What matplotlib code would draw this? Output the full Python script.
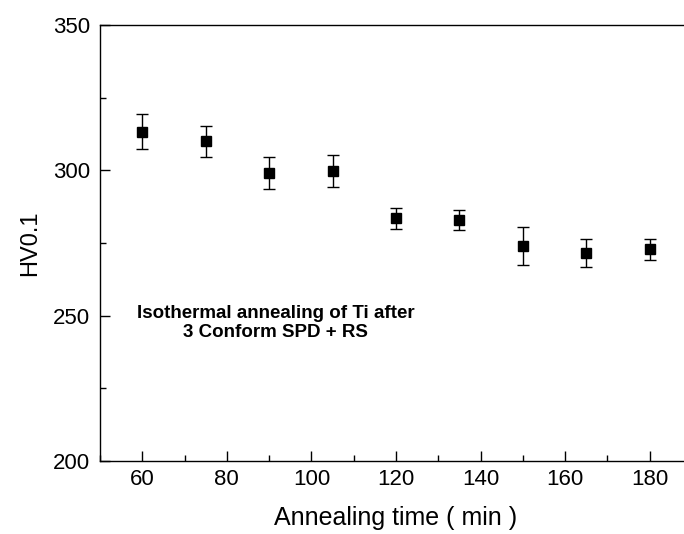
import matplotlib
matplotlib.use('Agg')
from matplotlib import pyplot as plt
from matplotlib.ticker import MultipleLocator
import numpy as np

plt.rcParams['font.family'] = ['Liberation Sans', 'DejaVu Sans']

# annealing time (min) and hardness HV0.1 with error
time_min = [60, 75, 90, 105, 120, 135, 150, 165, 180]
hv = [313.3, 310.0, 299.1, 299.7, 283.5, 282.9, 274.0, 271.5, 272.8]
hv_err = [6.0, 5.3, 5.5, 5.5, 3.7, 3.5, 6.6, 4.9, 3.7]

fig = plt.figure(figsize=(6.84, 5.34), dpi=100)
# axes box: left 100px, right edge past the picture (cropped), top 25px, bottom 461px
ax = fig.add_axes([100/684, (534-461)/534, 592/684, 436/534])

ax.errorbar(time_min, hv, yerr=hv_err, fmt='s', color='black', markersize=7,
            ecolor='black', elinewidth=1, capsize=4, capthick=1)

ax.set_xlim(50, 190)
ax.set_ylim(200, 350)
ax.xaxis.set_major_locator(MultipleLocator(20))
ax.xaxis.set_minor_locator(MultipleLocator(10))
ax.yaxis.set_major_locator(MultipleLocator(50))
ax.yaxis.set_minor_locator(MultipleLocator(25))
ax.tick_params(which='both', direction='in', top=False, right=False, labelsize=16, width=1)
ax.tick_params(which='major', length=7)
ax.tick_params(which='minor', length=4)
ax.tick_params(axis='x', which='major', pad=6)
ax.tick_params(axis='y', which='major', pad=7)
for s in ax.spines.values():
    s.set_linewidth(1)

ax.set_xlabel('Annealing time ( min )', fontsize=18, labelpad=11)
ax.set_ylabel('HV0.1', fontsize=17, labelpad=9)

ax.text(91.5, 247.5, 'Isothermal annealing of Ti after\n3 Conform SPD + RS',
        fontsize=13.5, fontweight='bold', ha='center', va='center', multialignment='center')

fig.savefig('out.png', dpi=100)
